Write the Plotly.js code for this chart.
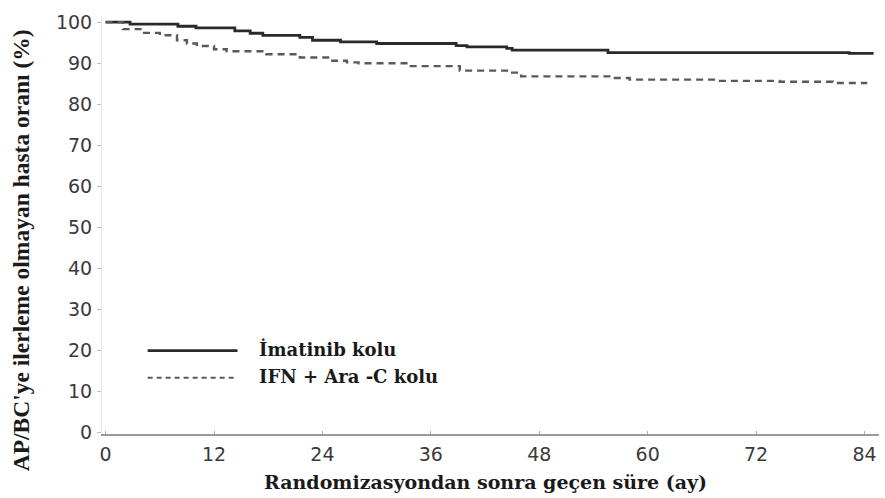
<!DOCTYPE html>
<html>
<head>
<meta charset="utf-8">
<script src="https://cdn.plot.ly/plotly-3.0.1.min.js"></script>
<style>html,body{margin:0;padding:0;background:#fff;}#chart{width:885px;height:498px;}</style>
</head>
<body>
<div id="chart"></div>
<script>
// Months since randomization and % of patients without progression to AP/BC
var imatinibMonths = [0, 2.7, 8, 10, 14.3, 16, 17.4, 21.5, 22.9, 26, 30, 38.8, 40, 44.4, 45, 55.6, 82.3, 85];
var imatinibValues = [100, 99.5, 99.0, 98.6, 97.9, 97.3, 96.8, 96.3, 95.6, 95.2, 94.8, 94.3, 94.0, 93.6, 93.2, 92.6, 92.4, 92.4];

var ifnMonths = [0, 1.9, 4.1, 6, 7.9, 9, 10.1, 12, 13.4, 17.8, 21.5, 25.1, 26.7, 28, 33.6, 39.2, 45, 46, 56, 58, 68, 74.6, 80.5, 84.3];
var ifnValues = [100, 98.3, 97.4, 96.8, 95.6, 94.8, 94.2, 93.4, 92.9, 92.2, 91.4, 90.6, 90.2, 90.0, 89.3, 88.2, 87.7, 86.8, 86.4, 86.0, 85.7, 85.5, 85.2, 85.2];

var seriesNames = ["İmatinib kolu", "IFN + Ara -C kolu"];
var xTicks = [0, 12, 24, 36, 48, 60, 72, 84];
var yTicks = [0, 10, 20, 30, 40, 50, 60, 70, 80, 90, 100];
var xTitle = "Randomizasyondan sonra geçen süre (ay)";
var yTitle = "AP/BC'ye ilerleme olmayan hasta oranı (%)";

var traces = [
  {x: imatinibMonths, y: imatinibValues, mode: "lines", line: {shape: "hv", color: "#2a2a2a", width: 2.8}, name: seriesNames[0], showlegend: false, hoverinfo: "skip"},
  {x: ifnMonths, y: ifnValues, mode: "lines", line: {shape: "hv", color: "#595959", width: 2.4, dash: "7px,5px"}, name: seriesNames[1], showlegend: false, hoverinfo: "skip"}
];

var serif = "'Liberation Serif', 'Times New Roman', serif";
var wideSerif = "'DejaVu Serif', 'Liberation Serif', serif";
var tickFont = {family: "'DejaVu Sans', Verdana, sans-serif", size: 19, color: "#3a3a3a"};

var layout = {
  width: 885, height: 498,
  margin: {l: 102, r: 6, t: 16, b: 64},
  paper_bgcolor: "#fff", plot_bgcolor: "#fff",
  xaxis: {
    range: [-0.4, 85.6], tickvals: xTicks, ticktext: xTicks.map(String),
    showgrid: false, zeroline: false, showline: true, linecolor: "#9a9a9a", linewidth: 1.5,
    ticks: "inside", ticklen: 3, tickcolor: "#aaa", tickfont: tickFont, ticklabelstandoff: 3
  },
  yaxis: {
    range: [-0.3, 101.5], tickvals: yTicks, ticktext: yTicks.map(String),
    showgrid: false, zeroline: false, showline: true, linecolor: "#e8e8e8", linewidth: 1,
    ticks: "outside", ticklen: 4, tickcolor: "#bbb", tickfont: tickFont, ticklabelstandoff: 1
  },
  shapes: [
    {type: "line", xref: "x", yref: "y", x0: 4.65, x1: 14.6, y0: 20, y1: 20, line: {color: "#2a2a2a", width: 2.8}},
    {type: "line", xref: "x", yref: "y", x0: 4.65, x1: 14.6, y0: 13.4, y1: 13.4, line: {color: "#595959", width: 2, dash: "5px,4px"}}
  ],
  annotations: [
    {xref: "x", yref: "y", x: 16.8, y: 20.3, xanchor: "left", yanchor: "middle", showarrow: false, text: "<b>" + seriesNames[0] + "</b>", font: {family: wideSerif, size: 18, color: "#1a1a1a"}},
    {xref: "x", yref: "y", x: 16.8, y: 13.6, xanchor: "left", yanchor: "middle", showarrow: false, text: "<b>" + seriesNames[1] + "</b>", font: {family: wideSerif, size: 18, color: "#1a1a1a"}},
    {xref: "paper", yref: "paper", x: 0.493, y: -0.115, xanchor: "center", yanchor: "middle", showarrow: false, text: "<b>" + xTitle + "</b>", font: {family: wideSerif, size: 19, color: "#1a1a1a"}},
    {xref: "paper", yref: "paper", x: -0.104, y: 0.44, xanchor: "center", yanchor: "middle", textangle: -90, showarrow: false, text: "<b>" + yTitle + "</b>", font: {family: serif, size: 23.5, color: "#1a1a1a"}}
  ]
};

Plotly.newPlot("chart", traces, layout, {staticPlot: true, displayModeBar: false});
</script>
</body>
</html>
